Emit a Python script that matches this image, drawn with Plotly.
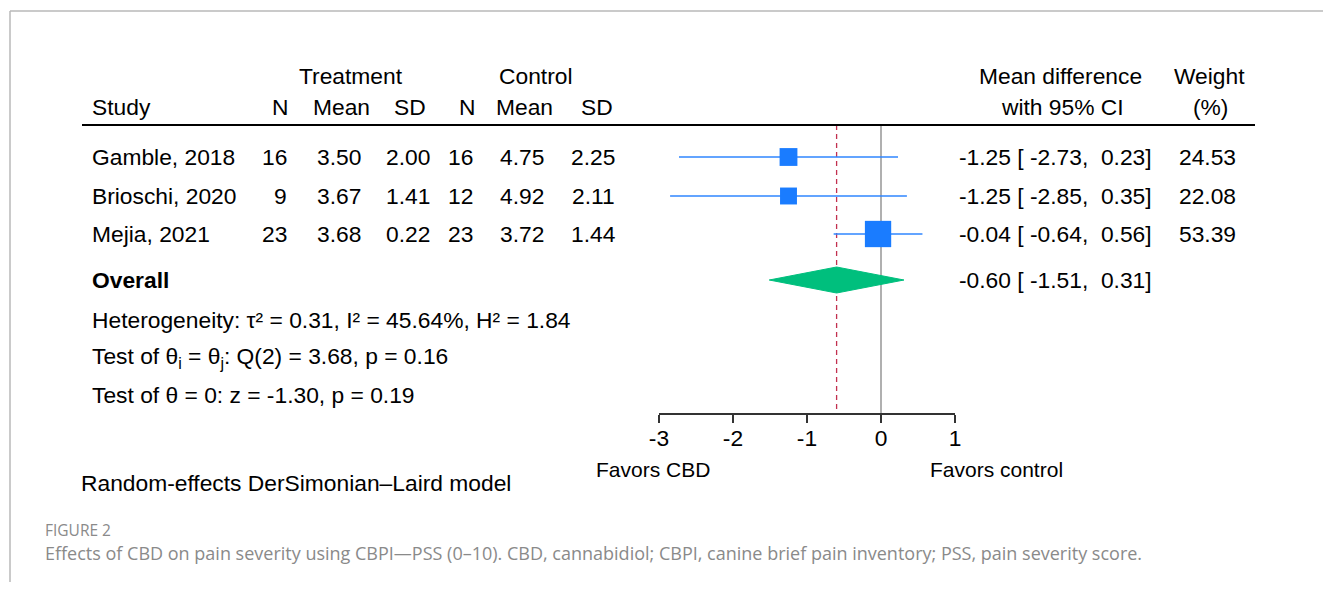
import plotly.graph_objects as go

# ---------------- data ----------------
studies = ["Gamble, 2018", "Brioschi, 2020", "Mejia, 2021"]
t_n = [16, 9, 23]
t_mean = [3.50, 3.67, 3.68]
t_sd = [2.00, 1.41, 0.22]
c_n = [16, 12, 23]
c_mean = [4.75, 4.92, 3.72]
c_sd = [2.25, 2.11, 1.44]
md = [-1.25, -1.25, -0.04]
md_lo = [-2.73, -2.85, -0.64]
md_hi = [0.23, 0.35, 0.56]
weight = [24.53, 22.08, 53.39]
overall_md = -0.60
overall_lo = -1.51
overall_hi = 0.31
tick_vals = [-3, -2, -1, 0, 1]
tick_labels = ["-3", "-2", "-1", "0", "1"]

# ---------------- layout constants ----------------
OFF = 8                      # page body margin
W, H = 1331 - 2 * OFF, 590 - 2 * OFF
FONT = "Liberation Sans, Arial, sans-serif"
FS = 22.8


def X(px):                   # page pixel -> paper fraction
    return (px - OFF) / W


def Y(py):                   # page pixel -> y-axis value
    return py - OFF


row_y = [Y(157), Y(196), Y(234)]
overall_y = Y(280)
axis_y = Y(414)
top_line_y = Y(125)
blue = "#1a7cff"
green = "#00bf7d"

fig = go.Figure()

# CI lines
xs, ys = [], []
for lo, hi, y in zip(md_lo, md_hi, row_y):
    xs += [lo, hi, None]
    ys += [y, y, None]
fig.add_trace(go.Scatter(x=xs, y=ys, mode="lines", line=dict(color="#2f86ff", width=1.6),
                         hoverinfo="skip", showlegend=False))
# squares
fig.add_trace(go.Scatter(x=md, y=row_y, mode="markers",
                         marker=dict(symbol="square", color=blue, opacity=1,
                                     size=[3.6 * w ** 0.5 for w in weight],
                                     line=dict(width=0)),
                         showlegend=False))
# overall diamond
fig.add_trace(go.Scatter(x=[overall_lo, overall_md, overall_hi, overall_md, overall_lo],
                         y=[overall_y, overall_y - 13, overall_y, overall_y + 13, overall_y],
                         mode="lines", fill="toself", fillcolor=green,
                         line=dict(color=green, width=1), showlegend=False))

shapes = []
# frame
shapes.append(dict(type="line", xref="paper", yref="y", x0=X(10), x1=1, y0=Y(11), y1=Y(11),
                   line=dict(color="#b8b8b8", width=1.5)))
shapes.append(dict(type="line", xref="paper", yref="y", x0=X(10), x1=X(10), y0=Y(11), y1=H,
                   line=dict(color="#b8b8b8", width=1.5)))
# header rule
shapes.append(dict(type="line", xref="paper", yref="y", x0=X(82), x1=X(1255),
                   y0=top_line_y, y1=top_line_y, line=dict(color="black", width=2)))
# zero line
shapes.append(dict(type="line", xref="x", yref="y", x0=0, x1=0, y0=top_line_y, y1=axis_y,
                   line=dict(color="#a8a8a8", width=1.8), layer="below"))
# overall line
shapes.append(dict(type="line", xref="x", yref="y", x0=overall_md, x1=overall_md,
                   y0=top_line_y, y1=axis_y, line=dict(color="#c2304f", width=1.3, dash="5px,4px"),
                   layer="below"))

ann = []


def txt(x, y, s, anchor="center", size=FS, color="black", font=FONT):
    ann.append(dict(x=X(x), y=Y(y), xref="paper", yref="y", text=s, showarrow=False,
                    xanchor=anchor, yanchor="middle",
                    font=dict(family=font, size=size, color=color)))


# headers
txt(351, 76, "Treatment")
txt(536, 76, "Control")
txt(90, 107, "Study", "left")
for x, s in zip([280, 341, 410, 467, 524, 597], ["N", "Mean", "SD", "N", "Mean", "SD"]):
    txt(x, 107, s)
txt(1060, 76, "Mean difference")
txt(1062, 107, "with 95% CI")
txt(1209, 76, "Weight")
txt(1210, 107, "(%)")

NB = "\u00a0"


def fmt_ci(m, lo, hi):
    return f"{m:.2f} [{NB}{lo:.2f},{NB}{NB}{hi:.2f}]"


for i, y in enumerate([157, 196, 234]):
    txt(90, y, studies[i], "left")
    txt(289, y, f"{t_n[i]}", "right")
    txt(339, y, f"{t_mean[i]:.2f}")
    txt(408, y, f"{t_sd[i]:.2f}")
    txt(475, y, f"{c_n[i]}", "right")
    txt(522, y, f"{c_mean[i]:.2f}")
    txt(593, y, f"{c_sd[i]:.2f}")
    txt(957, y, fmt_ci(md[i], md_lo[i], md_hi[i]), "left")
    txt(1207, y, f"{weight[i]:.2f}")

txt(90, 280, "<b>Overall</b>", "left")
txt(957, 280, fmt_ci(overall_md, overall_lo, overall_hi), "left")

txt(90, 320, "Heterogeneity: τ² = 0.31, I² = 45.64%, H² = 1.84", "left")
txt(90, 357, "Test of θ<sub>i</sub> = θ<sub>j</sub>: Q(2) = 3.68, p = 0.16", "left")
txt(90, 395, "Test of θ = 0: z = -1.30, p = 0.19", "left")

txt(653, 469, "Favors CBD", size=21)
txt(996, 469, "Favors control", size=21)
txt(79, 483, "Random-effects DerSimonian–Laird model", "left")

txt(43, 530, "FIGURE 2", "left", size=15.5, color="#8a8a8a", font="Open Sans, sans-serif")
txt(43, 553, "Effects of CBD on pain severity using CBPI—PSS (0–10). CBD, cannabidiol; CBPI, "
             "canine brief pain inventory; PSS, pain severity score.", "left", size=18,
    color="#8a8a8a", font="Open Sans, sans-serif")

fig.update_layout(
    width=W, height=H, autosize=False,
    margin=dict(l=0, r=0, t=0, b=0, pad=0, autoexpand=False),
    paper_bgcolor="white", plot_bgcolor="rgba(0,0,0,0)",
    shapes=shapes, annotations=ann, showlegend=False,
    xaxis=dict(domain=[X(659), X(955)], range=[-3, 1], anchor="free",
               position=1 - axis_y / H, showgrid=False, zeroline=False, automargin=False,
               showline=True, linecolor="#333333", linewidth=1.5,
               ticks="outside", ticklen=8, tickwidth=1.5, tickcolor="#333333",
               tickvals=tick_vals, ticktext=tick_labels, ticklabelstandoff=-4,
               tickfont=dict(family=FONT, size=FS, color="black")),
    yaxis=dict(domain=[0, 1], range=[H, 0], visible=False, showgrid=False, zeroline=False,
               automargin=False),
)

fig.write_html("out.html")
